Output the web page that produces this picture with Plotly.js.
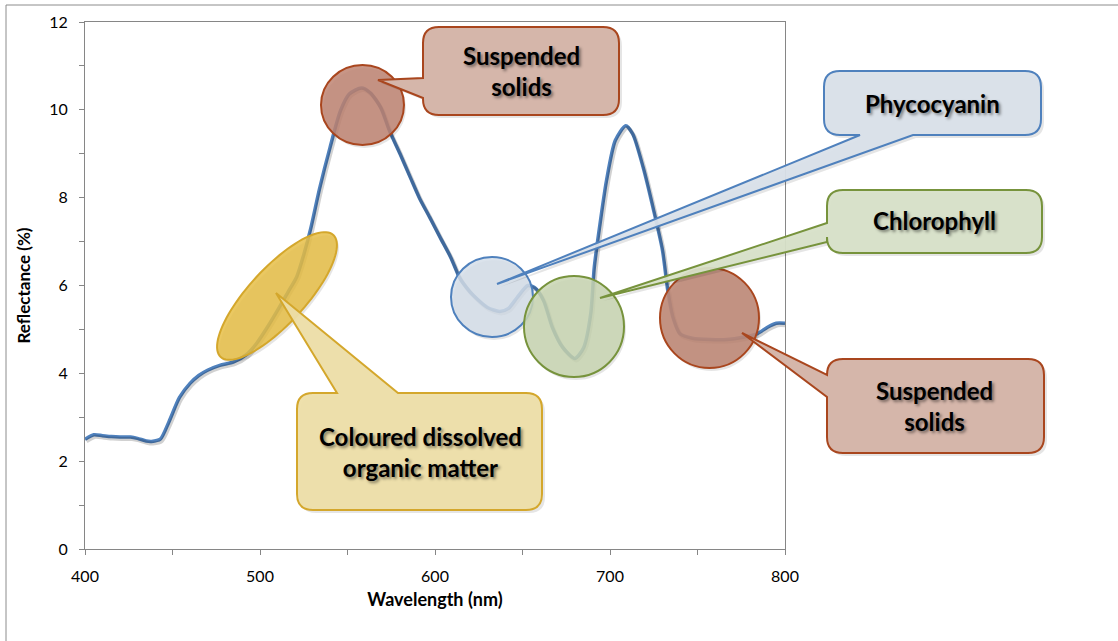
<!DOCTYPE html>
<html><head><meta charset="utf-8">
<script src="https://cdn.plot.ly/plotly-3.0.1.min.js"></script>
<style>html,body{margin:0;padding:0;background:#fff;}#chart{width:1118px;height:641px;}</style>
</head><body><div id="chart"></div>
<script>
const wavelength = [400,405,410,415,420,426,430,435,438,443,448,454,460,465,470,477,485,492,498,505,511,516,521,525,529,534,540,546,551,558,563,569,574,580,586,591,597,603,609,614,618,622,630,637,642,647,653,657,662,667,673,680,685,689,691,694,698,703,709,713,719,725,730,733,736,740,747,757,767,776,784,790,795,800];
const reflectance = [2.50,2.60,2.58,2.56,2.55,2.55,2.52,2.46,2.45,2.50,2.90,3.45,3.77,3.95,4.07,4.18,4.26,4.42,4.68,5.10,5.50,5.85,6.20,6.70,7.30,8.20,9.14,9.98,10.36,10.50,10.39,10.05,9.52,9.00,8.45,8.00,7.55,7.09,6.64,6.18,5.95,5.77,5.50,5.41,5.48,5.73,6.00,5.95,5.66,5.05,4.59,4.34,4.59,5.36,6.41,7.32,8.39,9.30,9.64,9.45,8.68,7.70,6.80,5.89,5.27,4.90,4.80,4.77,4.77,4.82,4.90,5.05,5.14,5.14];
const xTickVals = [400,500,600,700,800];
const yTickVals = [0,2,4,6,8,10,12];
const calloutLabels = ['Suspended<br>solids','Phycocyanin','Chlorophyll','Suspended<br>solids','Coloured dissolved<br>organic matter'];

const L=85,R=785,T=22,B=549;
function px(x){return (x-L)/(R-L);}
function py(y){return (B-y)/(B-T);}
function P(x,y){return px(x).toFixed(5)+','+py(y).toFixed(5);}

function callout(x0,y0,x1,y1,r,w,o){
  o=o||0; x0+=o;x1+=o;y0+=o;y1+=o;
  w=Object.assign({},w); w.a+=o; w.b+=o; w.tx+=o; w.ty+=o;
  let d='M'+P(x0+r,y0);
  if(w.edge==='top'){d+=' L'+P(w.a,y0)+' L'+P(w.tx,w.ty)+' L'+P(w.b,y0);}
  d+=' L'+P(x1-r,y0)+' Q'+P(x1,y0)+' '+P(x1,y0+r);
  d+=' L'+P(x1,y1-r)+' Q'+P(x1,y1)+' '+P(x1-r,y1);
  if(w.edge==='bottom'){d+=' L'+P(w.b,y1)+' L'+P(w.tx,w.ty)+' L'+P(w.a,y1);}
  d+=' L'+P(x0+r,y1)+' Q'+P(x0,y1)+' '+P(x0,y1-r);
  if(w.edge==='left'){d+=' L'+P(x0,w.b)+' L'+P(w.tx,w.ty)+' L'+P(x0,w.a);}
  d+=' L'+P(x0,y0+r)+' Q'+P(x0,y0)+' '+P(x0+r,y0)+' Z';
  return d;
}
function ellipsePath(cx,cy,a,b,deg){
  const th=deg*Math.PI/180; let d='';
  for(let i=0;i<=96;i++){
    const t=i/96*2*Math.PI;
    const ex=a*Math.cos(t), ey=b*Math.sin(t);
    const x=cx+ex*Math.cos(th)+ey*Math.sin(th);
    const y=cy-ex*Math.sin(th)+ey*Math.cos(th);
    d+=(i===0?'M':' L')+P(x,y);
  }
  return d+' Z';
}
function circ(x0,y0,x1,y1,fill,line,w){
  return {type:'circle',xref:'paper',yref:'paper',x0:px(x0),x1:px(x1),y0:py(y1),y1:py(y0),fillcolor:fill,line:{color:line,width:w===undefined?2:w},layer:'above'};
}
function pathShape(d,fill,line,w){
  return {type:'path',xref:'paper',yref:'paper',path:d,fillcolor:fill,line:{color:line,width:w===undefined?2:w},layer:'above'};
}
const SH='rgba(0,0,0,0.10)', NO='rgba(0,0,0,0)';
const brownLine='#A9461E', blueLine='#4F81BD', greenLine='#77933C', goldLine='#D4A72C';
const boxes=[
  [423,27,619,115,{edge:'left',a:78,b:98,tx:378,ty:80},'rgb(213,182,170)',brownLine],
  [824,71,1041,135,{edge:'bottom',a:860,b:913,tx:497,ty:284},'rgba(217,224,233,0.95)',blueLine],
  [827,190,1042,253,{edge:'left',a:223,b:242,tx:600,ty:298},'rgba(215,224,200,0.95)',greenLine],
  [827,359,1044,453,{edge:'left',a:375,b:397,tx:742,ty:333},'rgb(213,182,170)',brownLine],
  [297,393,542,510,{edge:'top',a:337,b:398,tx:276,ty:293},'rgba(237,222,168,0.95)',goldLine]
];
const circles=[
  [321,65,404,145,'rgba(190,132,114,0.85)',brownLine],
  [451,257,533,337,'rgba(213,222,233,0.85)',blueLine],
  [524,276,624,377,'rgba(200,213,178,0.85)',greenLine],
  [660,268,759,368,'rgba(190,136,119,0.9)',brownLine]
];
const shapes=[
  {type:'rect',xref:'paper',yref:'paper',x0:px(6),y0:py(650),x1:px(1130),y1:py(5),line:{color:'#8C8C8C',width:1},fillcolor:NO,layer:'below'}
];
shapes.push(pathShape(ellipsePath(279,299,83,28,47.3),SH,NO,0));
shapes.push(pathShape(ellipsePath(277,296,83,28,47.3),'rgba(230,190,70,0.85)',goldLine));
circles.forEach(c=>{shapes.push(circ(c[0]+2,c[1]+3,c[2]+2,c[3]+3,SH,NO,0));shapes.push(circ(c[0],c[1],c[2],c[3],c[4],c[5]));});
boxes.forEach(b=>{shapes.push(pathShape(callout(b[0],b[1],b[2],b[3],16,b[4],3),SH,NO,0));shapes.push(pathShape(callout(b[0],b[1],b[2],b[3],16,b[4],0),b[5],b[6]));});

const centers=[[521,71],[932,103],[934,221],[935,406],[420,452]];
const annotations=calloutLabels.map((t,i)=>({
  text:t,xref:'paper',yref:'paper',x:px(centers[i][0]),y:py(centers[i][1]),xanchor:'center',yanchor:'middle',showarrow:false,
  font:{family:'Lato, sans-serif',size:24,weight:'bold',color:'#000',shadow:'2px 2px 3px rgba(0,0,0,0.45)'}
}));

const shadowTrace={x:wavelength,y:reflectance,xaxis:'x2',yaxis:'y2',mode:'lines',
  line:{color:'rgba(0,0,0,0.18)',width:4,shape:'spline',smoothing:0.7},hoverinfo:'skip',showlegend:false};
const mainTrace={x:wavelength,y:reflectance,mode:'lines',
  line:{color:'#4F81BD',width:3.5,shape:'spline',smoothing:0.7},showlegend:false};

const axisFont={family:'Lato, sans-serif',size:16,color:'#000'};
const layout={
  width:1118,height:641,paper_bgcolor:'#fff',plot_bgcolor:'#fff',
  margin:{l:85,r:333,t:22,b:92,pad:0},
  showlegend:false,
  xaxis:{range:[400,800],tickvals:xTickVals,ticks:'outside',ticklen:5,tickcolor:'#868686',showline:true,linecolor:'#868686',linewidth:1,mirror:true,
    showgrid:false,zeroline:false,tickfont:axisFont,ticklabelstandoff:8,minor:{dtick:50,ticks:'outside',ticklen:5,tickcolor:'#868686'},
    title:{text:'Wavelength (nm)',font:{family:'Lato, sans-serif',size:18,weight:'bold',color:'#000'},standoff:9}},
  yaxis:{range:[0,12],tickvals:yTickVals,ticks:'outside',ticklen:5,tickcolor:'#868686',showline:true,linecolor:'#868686',linewidth:1,mirror:true,
    showgrid:false,zeroline:false,tickfont:axisFont,ticklabelstandoff:8,minor:{dtick:1,ticks:'outside',ticklen:5,tickcolor:'#868686'},
    title:{text:'Reflectance (%)',font:{family:'Lato, sans-serif',size:17,weight:'bold',color:'#000'},standoff:14}},
  xaxis2:{overlaying:'x',range:[400-1.5/1.75,800-1.5/1.75],visible:false},
  yaxis2:{overlaying:'y',range:[0+2/43.9,12+2/43.9],visible:false},
  shapes:shapes,annotations:annotations
};
Plotly.newPlot('chart',[shadowTrace,mainTrace],layout,{displayModeBar:false,staticPlot:true});
</script></body></html>
